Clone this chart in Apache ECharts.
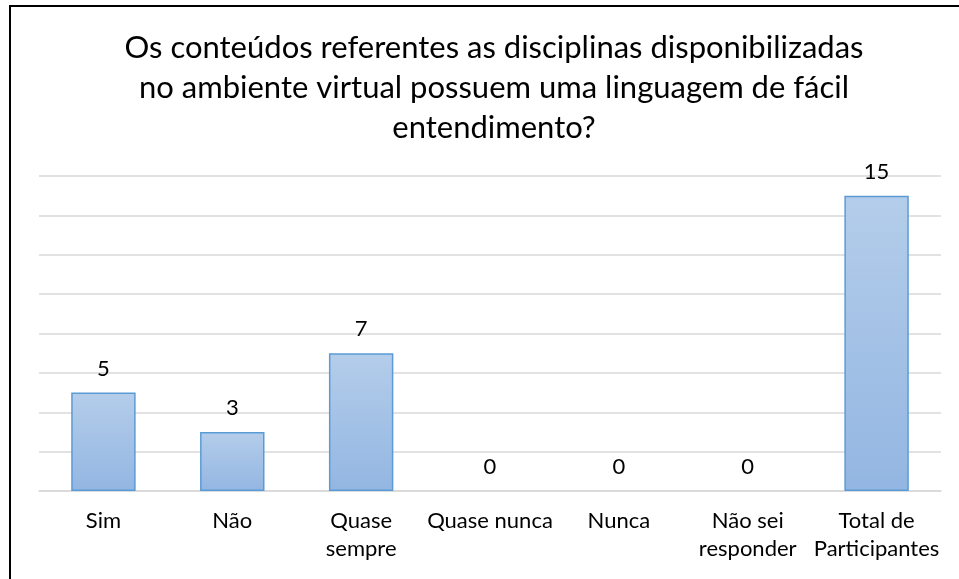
<!DOCTYPE html>
<html>
<head>
<meta charset="utf-8">
<script src="https://cdn.jsdelivr.net/npm/echarts@6/dist/echarts.min.js"></script>
<style>
  html, body { margin: 0; padding: 0; background: #fff; }
  #chart { width: 959px; height: 579px; }
</style>
</head>
<body>
<div id="chart"></div>
<script>
const titleText = 'Os conteúdos referentes as disciplinas disponibilizadas\nno ambiente virtual possuem uma linguagem de fácil\nentendimento?'
const categories = ['Sim', 'Não', 'Quase\nsempre', 'Quase nunca', 'Nunca', 'Não sei\nresponder', 'Total de\nParticipantes']
const values = [5, 3, 7, 0, 0, 0, 15]

const chart = echarts.init(document.getElementById('chart'), null, { renderer: 'canvas' })
const font = 'Lato, "Open Sans", sans-serif'

// zero bars have no visible outline in the original
const barData = values.map(v => v === 0 ? { value: v, itemStyle: { borderWidth: 0 } } : v)

chart.setOption({
  backgroundColor: '#fff',
  animation: false,
  title: {
    text: titleText,
    left: 489,
    textAlign: 'center',
    top: 23,
    textStyle: { fontFamily: font, fontSize: 31, fontWeight: 'normal', color: '#000', lineHeight: 40, align: 'center' }
  },
  graphic: [{
    type: 'rect',
    shape: { x: 10, y: 6, width: 1200, height: 1200 },
    style: { fill: 'none', stroke: '#000', lineWidth: 2 },
    silent: true
  }],
  grid: { left: 39, right: 18, top: 176, bottom: 88 },
  xAxis: {
    type: 'category',
    data: categories,
    axisLine: { lineStyle: { color: '#d9d9d9', width: 1.5 } },
    axisTick: { show: false },
    axisLabel: { interval: 0, margin: 16, fontFamily: font, fontSize: 22, color: '#000', lineHeight: 28 }
  },
  yAxis: {
    type: 'value',
    min: 0,
    max: 16,
    interval: 2,
    axisLine: { show: false },
    axisTick: { show: false },
    axisLabel: { show: false },
    splitLine: { lineStyle: { color: '#d9d9d9', width: 1.5 } }
  },
  series: [{
    type: 'bar',
    data: barData,
    barWidth: '50%',
    itemStyle: {
      color: new echarts.graphic.LinearGradient(0, 0, 0, 1, [
        { offset: 0, color: '#b4cdea' },
        { offset: 1, color: '#93b6e2' }
      ]),
      borderColor: '#5b9bd5',
      borderWidth: 1.5
    },
    label: { show: true, position: 'top', distance: 13, fontFamily: font, fontSize: 22, color: '#000' }
  }]
})
</script>
</body>
</html>
